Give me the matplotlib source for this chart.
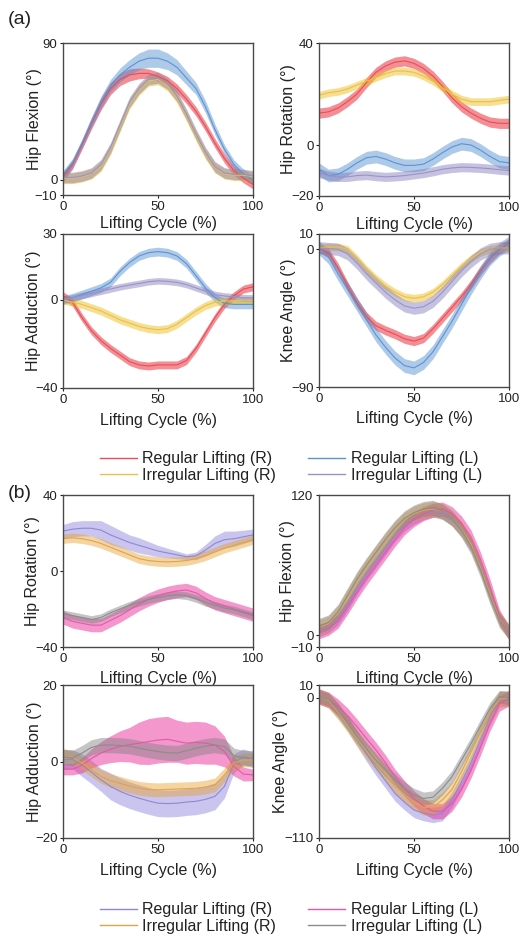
import numpy as np
import matplotlib
matplotlib.use("Agg")
import matplotlib.pyplot as plt
from matplotlib.lines import Line2D

plt.rcParams['font.family'] = ['Liberation Sans', 'DejaVu Sans']

# ---------------- data ----------------
cycle = [0, 5, 10, 15, 20, 25, 30, 35, 40, 45, 50, 55, 60, 65, 70, 75, 80, 85, 90, 95, 100]

labels_a = ["Regular Lifting (R)", "Regular Lifting (L)", "Irregular Lifting (R)", "Irregular Lifting (L)"]
labels_b = ["Regular Lifting (R)", "Regular Lifting (L)", "Irregular Lifting (R)", "Irregular Lifting (L)"]

# (a) Hip Flexion
a_hipflex_regR = [2, 10, 23, 37, 50, 60, 66, 69, 70, 70, 68, 65, 60, 53, 45, 35, 24, 14, 6, 1, -3]
a_hipflex_regR_sd = [3, 3, 3, 3.5, 4, 4, 4, 4, 3.5, 3, 3, 3, 3, 3, 3, 3, 3, 3, 3, 3, 3]
a_hipflex_regL = [3, 11, 24, 38, 51, 62, 69, 74, 78, 80, 80, 78, 74, 67, 60, 48, 33, 20, 10, 4, 0]
a_hipflex_regL_sd = [3, 3, 3, 3.5, 4, 4, 4.5, 5, 5.5, 6, 6, 5.5, 5, 4.5, 4, 4, 3.5, 3, 3, 3, 3]
a_hipflex_irrR = [1, 1, 2, 4, 9, 20, 35, 50, 59, 65, 66, 62, 54, 42, 29, 17, 8, 4, 3, 3, 2]
a_hipflex_irrR_sd = [3.5] * 21
a_hipflex_irrL = [1.5, 1.5, 2.5, 4.5, 10, 21, 36, 51, 60, 66, 67, 63, 55, 43, 30, 18, 8.5, 4.5, 3.5, 3.5, 2.5]
a_hipflex_irrL_sd = [3.5] * 21

# (a) Hip Rotation
a_hiprot_regR = [12.5, 13, 14.5, 17, 20, 24.5, 28.5, 31, 32.5, 33, 32, 30, 27, 23, 18.5, 15, 12.5, 10.5, 9, 8.5, 8.5]
a_hiprot_regR_sd = [2] * 21
a_hiprot_regL = [-9.5, -12, -11.5, -9.5, -7, -5, -4.5, -5.5, -7, -8, -8, -7.5, -5.5, -3, -0.8, 0.5, 0, -2, -4.5, -6.5, -7]
a_hiprot_regL_sd = [2.5] * 21
a_hiprot_irrR = [19.5, 20.5, 21, 22, 23.5, 25, 26.5, 28, 29, 29, 28.5, 27, 25, 22.5, 20, 18, 17, 17, 17, 17.5, 18]
a_hiprot_irrR_sd = [1.5] * 21
a_hiprot_irrL = [-11, -12, -12.5, -12.5, -12, -11.8, -12.2, -12.5, -12.3, -12, -11.5, -11, -10.3, -9.5, -9, -8.7, -8.8, -9, -9.3, -9.7, -10]
a_hiprot_irrL_sd = [1.8] * 21

# (a) Hip Adduction
a_hipadd_regR = [2, -1, -8, -14, -18.5, -22, -25, -28, -29.5, -30, -29.5, -29.5, -29.5, -27.5, -22, -15, -8, -2, 2, 5, 6]
a_hipadd_regR_sd = [1.8] * 21
a_hipadd_regL = [0, 1, 2.5, 4, 5.5, 8, 13, 17, 20, 21.5, 22, 21.5, 20, 16.5, 11, 5.5, 1, -1.5, -2, -2, -2]
a_hipadd_regL_sd = [2] * 21
a_hipadd_irrR = [0, -1, -2, -3.5, -5, -7, -9, -10.5, -12, -13, -13.5, -13, -11, -8, -5, -2.5, -1, -0.5, -0.3, -0.3, -0.3]
a_hipadd_irrR_sd = [1.8] * 21
a_hipadd_irrL = [0, 1, 2, 3, 4, 5, 6, 6.8, 7.5, 8.3, 8.7, 8.5, 8, 7, 5.5, 4, 2.5, 1.8, 1.5, 1, 1]
a_hipadd_irrL_sd = [1.5] * 21

# (a) Knee Angle
a_knee_regR = [1, -2.5, -12, -24, -35, -44, -50, -53, -55.5, -58.5, -60, -58, -52, -45, -38, -31, -23, -14, -6, 0, 4]
a_knee_regR_sd = [3] * 21
a_knee_regL = [1, -5, -16, -26, -36, -46, -56, -64, -71, -76, -77.5, -74, -67, -57, -47, -36, -25, -15, -6, 0, 4]
a_knee_regL_sd = [4.5] * 21
a_knee_irrR = [1, 1.5, 1.5, 0, -6, -13, -19, -24, -28, -31, -32, -31, -28, -23, -17, -11, -6, -2, 0, 1, 1]
a_knee_irrR_sd = [2.5] * 21
a_knee_irrL = [1, 0.5, 0, -3, -9, -16, -22, -28, -33, -37, -38.5, -37.5, -34, -28, -21, -14, -8, -3, 0, 1, 1]
a_knee_irrL_sd = [4] * 21

# (b) Hip Rotation
b_hiprot_regR = [21, 22, 22.5, 22.5, 21.5, 19, 17, 15, 13.5, 12, 10.5, 9.5, 8.5, 7.5, 8, 11, 14.5, 16.5, 17, 18, 19]
b_hiprot_regR_sd = [3.5, 4, 4, 4, 5, 5, 4.5, 4, 4, 3.5, 3, 2.5, 2, 1.5, 2, 3, 4, 4.5, 4, 3.5, 3]
b_hiprot_regL = [-24.5, -26.5, -27.5, -28.5, -28.5, -26, -23.5, -20.5, -17.5, -15, -13, -11.5, -10.5, -10, -11.5, -14.5, -17, -18.5, -20, -21.5, -23]
b_hiprot_regL_sd = [3.5] * 21
b_hiprot_irrR = [17, 17.5, 17, 16, 14.5, 12.5, 10.5, 8.5, 6.5, 5.5, 5, 4.8, 5, 5.5, 6.5, 8, 10, 12, 13.5, 15, 16.5]
b_hiprot_irrR_sd = [2.5] * 21
b_hiprot_irrL = [-22.5, -23.5, -24.5, -25.5, -24.5, -22, -20, -18, -16.5, -15, -14, -13, -12.5, -13, -14.5, -16.5, -18, -19.5, -20.5, -22, -23.5]
b_hiprot_irrL_sd = [2] * 21

# (b) Hip Flexion
b_hipflex_regR = [4, 7, 14, 26, 40, 52, 63, 74, 85, 94, 100, 104, 106, 104, 99, 90, 77, 58, 35, 14, 2]
b_hipflex_regR_sd = [5] * 21
b_hipflex_regL = [3, 6, 12, 24, 37, 49, 60, 71, 82, 92, 99, 104, 107, 108, 104, 96, 84, 65, 42, 16, 2]
b_hipflex_regL_sd = [6] * 21
b_hipflex_irrR = [7, 10, 19, 33, 47, 59, 70, 81, 91, 99, 104, 107, 108, 106, 100, 91, 78, 58, 35, 14, 3]
b_hipflex_irrR_sd = [6.5] * 21
b_hipflex_irrL = [8, 11, 20, 34, 48, 60, 71, 82, 92, 100, 105, 108, 109, 106, 100, 90, 76, 56, 33, 13, 3]
b_hipflex_irrL_sd = [6.5] * 21

# (b) Hip Adduction
b_hipadd_regR = [0.4, 0.6, -0.9, -2.8, -4.8, -6.5, -7.8, -8.8, -9.6, -10.3, -10.9, -11, -10.9, -10.6, -10.4, -9.9, -9.1, -6.5, -0.4, 1.3, 0.4]
b_hipadd_regR_sd = [2.5, 2.5, 3, 3, 3, 3.5, 3.5, 3.5, 3.5, 3.5, 3.5, 3.5, 3.5, 3.5, 3.5, 3.5, 3.5, 3, 2.5, 2, 2]
b_hipadd_regL = [-2, -2, -1, 0.8, 2.2, 3.2, 4, 4.4, 4.8, 5.2, 5.6, 5.8, 5.3, 4.8, 5, 4.8, 4.3, 2.6, -1.3, -3.3, -3.5]
b_hipadd_regL_sd = [1.5, 1.5, 2, 2.5, 3, 3.5, 4, 4.5, 5.5, 6, 6, 6, 5.5, 5.5, 5.5, 5.5, 5, 4, 2.5, 1.8, 1.5]
b_hipadd_irrR = [1.5, 1.1, -0.4, -2.2, -3.9, -5, -5.7, -6.4, -7, -7.3, -7.4, -7.3, -7.2, -7.1, -7, -6.7, -6.1, -3.5, -0.4, 0.4, 0.4]
b_hipadd_irrR_sd = [1.8] * 21
b_hipadd_irrL = [1.3, 0.9, 2.2, 3.7, 4.3, 4.3, 4.2, 4, 3.5, 3, 2.6, 2.3, 2.2, 2.8, 3.5, 4, 4.3, 3.9, 1.5, 0.9, 0.9]
b_hipadd_irrL_sd = [2] * 21

# (b) Knee Angle
b_knee_regR = [1, -2, -10, -20, -32, -44, -55, -65, -75, -82, -88, -90.5, -92, -90.5, -80, -66, -51, -33, -15, -1, -0.5]
b_knee_regR_sd = [6] * 21
b_knee_regL = [1, -1.5, -7, -14, -22.7, -32, -41, -51, -62, -71, -79, -85, -89, -89, -83, -72, -57, -39, -20, -4.5, -0.5]
b_knee_regL_sd = [6] * 21
b_knee_irrR = [1, -2, -11, -21, -32, -42, -51, -60, -69, -76, -82, -86, -86, -80, -72, -58, -43, -27, -12, -1, -0.5]
b_knee_irrR_sd = [6] * 21
b_knee_irrL = [1, -1.3, -9.7, -20, -30.5, -40, -48.8, -57, -64.5, -71, -76, -79, -78, -71, -62, -49, -36, -22, -8.5, 0.8, -0.5]
b_knee_irrL_sd = [5] * 21

# ---------------- styles ----------------
fill_a = ['#e8202a', '#4a8ad0', '#f0c020', '#8078b8']
line_a = ['#e84d5a', '#5d92d2', '#e6c052', '#9a92c6']
alpha_a = [0.5, 0.45, 0.5, 0.45]
fill_b = ['#7a70d8', '#e8309a', '#e8a030', '#808080']
line_b = ['#8f88cf', '#df5aa8', '#e0a448', '#8c8c8c']
alpha_b = [0.4, 0.5, 0.45, 0.45]

TXT = '#222222'
SP = '#4a4a4a'

fig = plt.figure(figsize=(5.19, 9.39), dpi=100)

def px_axes(l, r, t, b):
    W, H = 519.0, 939.0
    return fig.add_axes([l / W, 1 - b / H, (r - l) / W, (b - t) / H])

def draw(ax, series, fills, lines, alphas, ylim, yticks, ylabel, ylab_x, xlab_y):
    x = np.array(cycle)
    for (m, s), fc, lc, al in zip(series, fills, lines, alphas):
        m = np.array(m, float); s = np.array(s, float)
        ax.fill_between(x, m - s, m + s, color=fc, alpha=al, lw=0)
        ax.plot(x, m, color=lc, lw=0.8)
    ax.set_xlim(0, 100)
    ax.set_ylim(*ylim)
    ax.set_xticks([0, 50, 100])
    ax.set_yticks(yticks)
    ax.tick_params(labelsize=9.5, colors=TXT, length=2.5, width=0.8, pad=1.5)
    for sp in ax.spines.values():
        sp.set_color(SP); sp.set_linewidth(1.0)
    ax.set_xlabel("Lifting Cycle (%)", fontsize=11.5, color=TXT)
    ax.set_ylabel(ylabel, fontsize=11.5, color=TXT)
    ax.yaxis.set_label_coords(ylab_x, 0.5)
    ax.xaxis.set_label_coords(0.5, xlab_y)

# (a)
ax1 = px_axes(63, 253, 43, 195)
draw(ax1, [(a_hipflex_regR, a_hipflex_regR_sd), (a_hipflex_regL, a_hipflex_regL_sd),
           (a_hipflex_irrR, a_hipflex_irrR_sd), (a_hipflex_irrL, a_hipflex_irrL_sd)],
     fill_a, line_a, alpha_a, (-10, 90), [-10, 0, 90], "Hip Flexion (°)", -0.11, -0.14)
ax2 = px_axes(319, 509, 43, 196)
draw(ax2, [(a_hiprot_regR, a_hiprot_regR_sd), (a_hiprot_regL, a_hiprot_regL_sd),
           (a_hiprot_irrR, a_hiprot_irrR_sd), (a_hiprot_irrL, a_hiprot_irrL_sd)],
     fill_a, line_a, alpha_a, (-20, 40), [-20, 0, 40], "Hip Rotation (°)", -0.12, -0.14)
ax3 = px_axes(63, 253, 234, 388)
draw(ax3, [(a_hipadd_regR, a_hipadd_regR_sd), (a_hipadd_regL, a_hipadd_regL_sd),
           (a_hipadd_irrR, a_hipadd_irrR_sd), (a_hipadd_irrL, a_hipadd_irrL_sd)],
     fill_a, line_a, alpha_a, (-40, 30), [-40, 0, 30], "Hip Adduction (°)", -0.115, -0.16)
ax4 = px_axes(319, 509, 234, 387)
draw(ax4, [(a_knee_regR, a_knee_regR_sd), (a_knee_regL, a_knee_regL_sd),
           (a_knee_irrR, a_knee_irrR_sd), (a_knee_irrL, a_knee_irrL_sd)],
     fill_a, line_a, alpha_a, (-90, 10), [-90, 0, 10], "Knee Angle (°)", -0.12, -0.16)

# (b)
bx1 = px_axes(63, 253, 495, 647)
draw(bx1, [(b_hiprot_regR, b_hiprot_regR_sd), (b_hiprot_regL, b_hiprot_regL_sd),
           (b_hiprot_irrR, b_hiprot_irrR_sd), (b_hiprot_irrL, b_hiprot_irrL_sd)],
     fill_b, line_b, alpha_b, (-40, 40), [-40, 0, 40], "Hip Rotation (°)", -0.12, -0.16)
bx2 = px_axes(319, 509, 495, 647)
draw(bx2, [(b_hipflex_regR, b_hipflex_regR_sd), (b_hipflex_regL, b_hipflex_regL_sd),
           (b_hipflex_irrR, b_hipflex_irrR_sd), (b_hipflex_irrL, b_hipflex_irrL_sd)],
     fill_b, line_b, alpha_b, (-10, 120), [-10, 0, 120], "Hip Flexion (°)", -0.126, -0.16)
bx3 = px_axes(63, 253, 685, 838)
draw(bx3, [(b_hipadd_regR, b_hipadd_regR_sd), (b_hipadd_regL, b_hipadd_regL_sd),
           (b_hipadd_irrR, b_hipadd_irrR_sd), (b_hipadd_irrL, b_hipadd_irrL_sd)],
     fill_b, line_b, alpha_b, (-20, 20), [-20, 0, 20], "Hip Adduction (°)", -0.11, -0.165)
bx4 = px_axes(319, 509, 685, 838)
draw(bx4, [(b_knee_regR, b_knee_regR_sd), (b_knee_regL, b_knee_regL_sd),
           (b_knee_irrR, b_knee_irrR_sd), (b_knee_irrL, b_knee_irrL_sd)],
     fill_b, line_b, alpha_b, (-110, 10), [-110, 0, 10], "Knee Angle (°)", -0.163, -0.165)

fig.text(20 / 519, 1 - 20 / 939, "(a)", fontsize=14, color=TXT, ha='center', va='center')
fig.text(20 / 519, 1 - 493 / 939, "(b)", fontsize=14, color=TXT, ha='center', va='center')

def add_legend(labels, colors, ycenter):
    # column-major order so rows read: Regular (R), Regular (L) / Irregular (R), Irregular (L)
    order = [0, 2, 1, 3]
    handles = [Line2D([], [], color=colors[i], lw=1.0) for i in order]
    labs = [labels[i] for i in order]
    fig.legend(handles, labs, ncol=2, loc='center', bbox_to_anchor=(291 / 519, 1 - ycenter / 939),
               frameon=False, fontsize=11.5, handlelength=2.3, handletextpad=0.35,
               columnspacing=2.0, labelspacing=0.1, borderpad=0, labelcolor=TXT)

add_legend(labels_a, line_a, 467)
add_legend(labels_b, line_b, 918)

fig.savefig("out.png", dpi=100)
